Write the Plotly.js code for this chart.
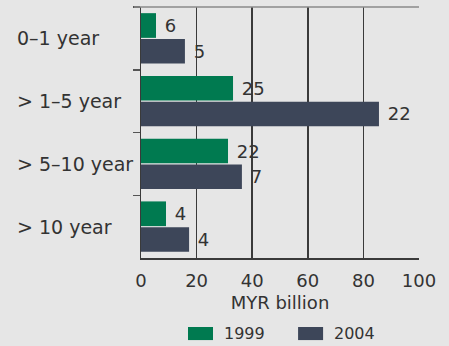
<!DOCTYPE html>
<html>
<head>
<meta charset="utf-8">
<script src="https://cdn.plot.ly/plotly-3.0.1.min.js"></script>
<style>html,body{margin:0;padding:0;background:#e6e6e6;}#chart{width:449px;height:346px;}</style>
</head>
<body>
<div id="chart"></div>
<script>
const categories = ["0–1 year", "> 1–5 year", "> 5–10 year", "> 10 year"];
const seriesNames = ["1999", "2004"];
const values1999 = [5.4, 33.1, 31.3, 9.0];
const values2004 = [15.8, 85.6, 36.3, 17.3];
const labels1999 = ["6", "25", "22", "4"];
const labels2004 = ["5", "22", "7", "4"];
const xTicks = [0, 20, 40, 60, 80, 100];

const colors = ["#007a50", "#3d4659"];
const textColor = "#333333";
const font = "DejaVu Sans, Verdana, sans-serif";

function barTrace(name, vals, labels, color) {
  return {
    type: "bar", orientation: "h", name: name,
    y: categories, x: vals,
    text: labels.map(t => "\u00a0" + t),
    textposition: "outside", cliponaxis: false,
    textfont: {family: font, size: 18, color: textColor},
    marker: {color: color},
    hoverinfo: "x+y"
  };
}

const data = [
  barTrace(seriesNames[0], values1999, labels1999, colors[0]),
  barTrace(seriesNames[1], values2004, labels2004, colors[1])
];

// custom legend (swatch + label) in paper coordinates below the plot
const legendSwatchX = [0.169, 0.565];
const legendSwatchW = 0.09;
const legendY = -0.301;
const legendH = 0.052;
const legendShapes = seriesNames.map((n, i) => ({
  type: "rect", xref: "paper", yref: "paper",
  x0: legendSwatchX[i], x1: legendSwatchX[i] + legendSwatchW,
  y0: legendY - legendH / 2, y1: legendY + legendH / 2,
  fillcolor: colors[i], line: {width: 0}
}));
const legendLabels = seriesNames.map((n, i) => ({
  xref: "paper", yref: "paper", x: legendSwatchX[i] + legendSwatchW + 0.032, y: legendY,
  xanchor: "left", yanchor: "middle", text: n, showarrow: false,
  font: {family: font, size: 16, color: textColor}
}));

const layout = {
  width: 449, height: 346,
  margin: {l: 141, r: 30, t: 7, b: 88, autoexpand: false},
  paper_bgcolor: "#e6e6e6", plot_bgcolor: "#e6e6e6",
  font: {family: font, color: textColor, size: 18},
  barmode: "group", bargap: 0.18, bargroupgap: 0.04,
  showlegend: false,
  xaxis: {
    range: [0, 100], tickvals: xTicks, ticktext: xTicks.map(String),
    showgrid: true, gridcolor: "#3a3a3a", gridwidth: 1.5,
    zeroline: false, showline: true, linecolor: "#3a3a3a", linewidth: 1.5,
    ticks: "outside", ticklen: 6, tickcolor: "rgba(0,0,0,0)",
    tickfont: {size: 18, color: textColor},
    title: {text: "MYR billion", font: {size: 18, color: textColor}, standoff: 6},
    fixedrange: true
  },
  yaxis: {
    type: "category", autorange: "reversed",
    showticklabels: false, showgrid: false, zeroline: false,
    showline: true, linecolor: "#3a3a3a", linewidth: 1.5,
    ticks: "outside", tickson: "boundaries", ticklen: 7, tickcolor: "#555555", tickwidth: 1.5,
    fixedrange: true
  },
  shapes: [
    {type: "line", xref: "paper", yref: "paper", x0: -0.025, x1: 1, y0: 1, y1: 1,
     line: {color: "#8a8a8a", width: 1.5}}
  ].concat(legendShapes),
  annotations: categories.map(c => ({
    xref: "paper", yref: "y", x: -0.453, y: c, xanchor: "left", yanchor: "middle",
    text: c, showarrow: false, font: {family: font, size: 19, color: textColor}
  })).concat(legendLabels)
};

Plotly.newPlot("chart", data, layout, {displayModeBar: false, staticPlot: true});
</script>
</body>
</html>
